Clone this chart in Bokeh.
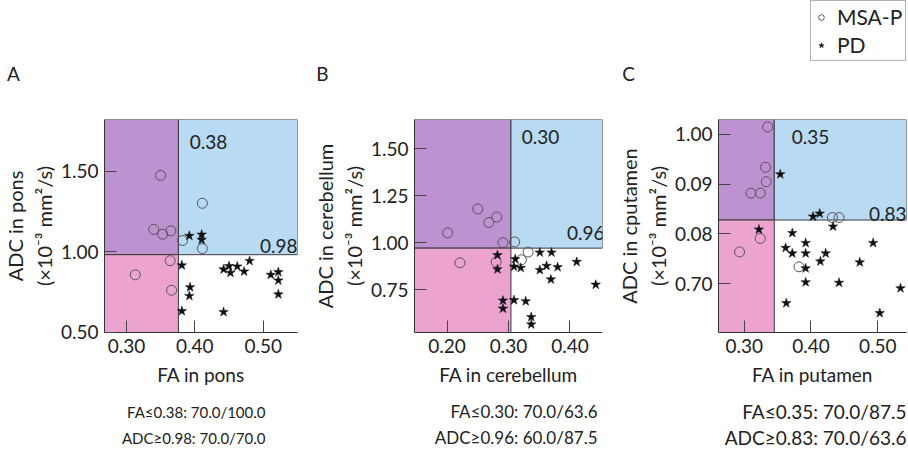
from bokeh.plotting import figure
from bokeh.models import Range1d, FixedTicker, Label, Legend, LegendItem
from bokeh.layouts import row, column
from bokeh.embed import file_html
from bokeh.resources import INLINE

# ---------------- data ----------------
# Panel A: pons
a_msa_fa = [0.350, 0.411, 0.340, 0.353, 0.365, 0.382, 0.411, 0.364, 0.313, 0.366]
a_msa_adc = [1.473, 1.300, 1.138, 1.108, 1.129, 1.069, 1.019, 0.944, 0.856, 0.760]
a_pd_fa = [0.392, 0.410, 0.410, 0.381, 0.442, 0.450, 0.452, 0.462, 0.472, 0.480,
           0.511, 0.522, 0.522, 0.522, 0.393, 0.392, 0.381, 0.442]
a_pd_adc = [1.098, 1.106, 1.073, 0.915, 0.890, 0.910, 0.869, 0.908, 0.877, 0.942,
            0.856, 0.873, 0.821, 0.735, 0.779, 0.725, 0.631, 0.625]

# Panel B: cerebellum
b_msa_fa = [0.250, 0.268, 0.281, 0.201, 0.291, 0.310, 0.221, 0.280, 0.321, 0.332]
b_msa_adc = [1.179, 1.107, 1.136, 1.052, 1.000, 1.004, 0.893, 0.898, 0.909, 0.950]
b_pd_fa = [0.282, 0.282, 0.311, 0.309, 0.320, 0.351, 0.370, 0.351, 0.362, 0.380,
           0.369, 0.411, 0.442, 0.291, 0.291, 0.309, 0.328, 0.337, 0.337]
b_pd_adc = [0.934, 0.859, 0.913, 0.873, 0.866, 0.948, 0.948, 0.855, 0.877, 0.870,
            0.805, 0.898, 0.777, 0.693, 0.650, 0.695, 0.689, 0.605, 0.566]

# Panel C: putamen
c_msa_fa = [0.335, 0.332, 0.333, 0.310, 0.324, 0.324, 0.293, 0.382, 0.432, 0.442]
c_msa_adc = [1.015, 0.934, 0.905, 0.882, 0.882, 0.791, 0.764, 0.734, 0.833, 0.833]
c_pd_fa = [0.354, 0.403, 0.413, 0.433, 0.322, 0.372, 0.392, 0.362, 0.372, 0.392,
           0.422, 0.414, 0.392, 0.392, 0.442, 0.493, 0.473, 0.534, 0.363, 0.503]
c_pd_adc = [0.920, 0.835, 0.841, 0.815, 0.809, 0.802, 0.782, 0.772, 0.761, 0.761,
            0.761, 0.745, 0.731, 0.703, 0.702, 0.782, 0.743, 0.691, 0.661, 0.641]

# cut-offs (line positions) and their printed labels
fa_cut = [0.376, 0.304, 0.345]
adc_cut = [0.981, 0.971, 0.828]
fa_cut_labels = ["0.38", "0.30", "0.35"]
adc_cut_labels = ["0.98", "0.96", "0.83"]

# axes
x_ranges = [(0.268, 0.550), (0.147, 0.453), (0.2615, 0.543)]
y_ranges = [(0.498, 1.82), (0.523, 1.654), (0.602, 1.030)]
x_ticks = [[0.30, 0.40, 0.50], [0.20, 0.30, 0.40], [0.30, 0.40, 0.50]]
x_tick_labels = [["0.30", "0.40", "0.50"], ["0.20", "0.30", "0.40"], ["0.30", "0.40", "0.50"]]
y_ticks = [[0.50, 1.00, 1.50], [0.75, 1.00, 1.25, 1.50], [0.70, 0.80, 0.90, 1.00]]
y_tick_labels = [["0.50", "1.00", "1.50"], ["0.75", "1.00", "1.25", "1.50"],
                 ["0.70", "0.08", "0.09", "1.00"]]

panel_letters = ["A", "B", "C"]
x_titles = ["FA in pons", "FA in cerebellum", "FA in putamen"]
y_titles = ["ADC in pons", "ADC in cerebellum", "ADC in cputamen"]
y_unit = "(\u00d710\u207b\u00b3 mm\u00b2/s)"
fa_stats = ["FA\u22640.38: 70.0/100.0", "FA\u22640.30: 70.0/63.6", "FA\u22640.35: 70.0/87.5"]
adc_stats = ["ADC\u22650.98: 70.0/70.0", "ADC\u22650.96: 60.0/87.5", "ADC\u22650.83: 70.0/63.6"]
legend_labels = ["MSA-P", "PD"]

msa_fa = [a_msa_fa, b_msa_fa, c_msa_fa]
msa_adc = [a_msa_adc, b_msa_adc, c_msa_adc]
pd_fa = [a_pd_fa, b_pd_fa, c_pd_fa]
pd_adc = [a_pd_adc, b_pd_adc, c_pd_adc]

# ---------------- style ----------------
FONT = "Lato"
TXT = "#222222"
PURPLE = "#bc92d0"
PINK = "#eca3d0"
BLUE = "#b8daf2"
EDGE = "#3a3a3a"
CIRC_COL = "#5a5060"
STAR_COL = "#111111"

W = 908
TOP_H = 90
BOT_H = 57
widths = [310, 304, 294]
borders_left = [100, 96, 96]
borders_right = [13, 12, 2]
PANEL_H = 305
BT, BB = 29, 63
stat_sizes = ["15px", "17px", "19px"]
stat_right = [265, 597, 906]


def bare_strip(h):
    s = figure(width=W, height=h, output_backend="svg", toolbar_location=None,
               x_range=Range1d(0, W), y_range=Range1d(0, h),
               x_axis_type=None, y_axis_type=None, min_border=0)
    s.grid.visible = False
    s.outline_line_color = None
    s.background_fill_color = "white"
    s.border_fill_color = "white"
    return s


def add_text(p, text, x, y, size, align="center"):
    p.add_layout(Label(x=x, y=y, text=text, text_font=FONT, text_font_size=size,
                       text_color=TXT, text_align=align, text_baseline="middle"))


# ---------- top strip: panel letters + legend ----------
top = bare_strip(TOP_H)
for letter, lx in zip(panel_letters, [13, 322, 628]):
    add_text(top, letter, lx, TOP_H - 73, "19px")
# hidden renderers that only supply the legend glyphs
leg_c = top.scatter(c_msa_fa, c_msa_adc, marker="circle", size=9, fill_color=None,
                    line_color=CIRC_COL, line_width=1, visible=False)
leg_s = top.scatter(c_pd_fa, c_pd_adc, marker="star", size=10, fill_color=STAR_COL,
                    line_color=STAR_COL, line_width=0.5, visible=False)
legend = Legend(items=[LegendItem(label=legend_labels[0], renderers=[leg_c]),
                       LegendItem(label=legend_labels[1], renderers=[leg_s])],
                location=(810, TOP_H - 61), label_text_font=FONT,
                label_text_font_size="21px", label_text_color=TXT,
                border_line_color="#666666", border_line_width=1,
                background_fill_color="white", background_fill_alpha=1,
                padding=3, spacing=3, margin=0, glyph_width=14, glyph_height=22,
                label_height=22, label_standoff=9, click_policy="none")
top.add_layout(legend, "center")

# ---------- panels ----------
fa_lab_pos = [(104, 191), (126, 196), (92, 196)]
adc_lab_pos = [(193, 87), (190, 100), (188, 119)]

figs = []
for i in range(3):
    p = figure(width=widths[i], height=PANEL_H, output_backend="svg", toolbar_location=None,
               x_range=Range1d(*x_ranges[i]), y_range=Range1d(*y_ranges[i]),
               min_border_left=borders_left[i], min_border_right=borders_right[i],
               min_border_top=BT, min_border_bottom=BB)
    p.grid.visible = False
    p.outline_line_color = None
    p.background_fill_color = "white"
    p.border_fill_color = "white"

    x0, x1 = x_ranges[i]
    y0, y1 = y_ranges[i]
    xc, yc = fa_cut[i], adc_cut[i]
    p.quad(left=[x0], right=[xc], bottom=[yc], top=[y1], fill_color=PURPLE,
           line_color=EDGE, line_width=1)
    p.quad(left=[x0], right=[xc], bottom=[y0], top=[yc], fill_color=PINK,
           line_color=EDGE, line_width=1)
    p.quad(left=[xc], right=[x1], bottom=[yc], top=[y1], fill_color=BLUE,
           line_color=EDGE, line_width=1)

    p.scatter(msa_fa[i], msa_adc[i], marker="circle", size=10, fill_color=None,
              line_color=CIRC_COL, line_width=1)
    p.scatter(pd_fa[i], pd_adc[i], marker="star", size=10, fill_color=STAR_COL,
              line_color=STAR_COL, line_width=0.5)

    for ax, ticks, labs in ((p.xaxis[0], x_ticks[i], x_tick_labels[i]),
                            (p.yaxis[0], y_ticks[i], y_tick_labels[i])):
        ax.ticker = FixedTicker(ticks=ticks)
        ax.major_label_overrides = {t: l for t, l in zip(ticks, labs)}
        ax.major_tick_in = 12
        ax.major_tick_out = 0
        ax.minor_tick_line_color = None
        ax.major_tick_line_color = "#444444"
        ax.axis_line_color = "#333333"
        ax.major_label_text_font = FONT
        ax.major_label_text_font_size = "19px"
        ax.major_label_text_color = TXT
        ax.major_label_standoff = 6
        ax.axis_label_text_font = FONT
        ax.axis_label_text_font_style = "normal"
        ax.axis_label_text_color = TXT

    p.xaxis[0].axis_label = x_titles[i]
    p.xaxis[0].axis_label_text_font_size = "19px"
    p.xaxis[0].axis_label_standoff = 7
    p.yaxis[0].axis_label = y_titles[i] + "\n" + y_unit
    p.yaxis[0].axis_label_text_font_size = "20px"
    p.yaxis[0].axis_label_standoff = 2

    for txt, (lx, ly), al in ((fa_cut_labels[i], fa_lab_pos[i], "center"),
                              (adc_cut_labels[i], adc_lab_pos[i], "right")):
        p.add_layout(Label(x=lx, y=ly, x_units="screen", y_units="screen", text=txt,
                           text_font=FONT, text_font_size="19px", text_color=TXT,
                           text_align=al, text_baseline="middle"))
    figs.append(p)

# ---------- bottom strip: sensitivity / specificity ----------
bot = bare_strip(BOT_H)
for fa_t, adc_t, rx, fs in zip(fa_stats, adc_stats, stat_right, stat_sizes):
    add_text(bot, fa_t, rx, BOT_H - 16, fs, align="right")
    add_text(bot, adc_t, rx, BOT_H - 42, fs, align="right")

layout = column(top, row(*figs), bot)
open("out.html", "w").write(file_html(layout, INLINE))
